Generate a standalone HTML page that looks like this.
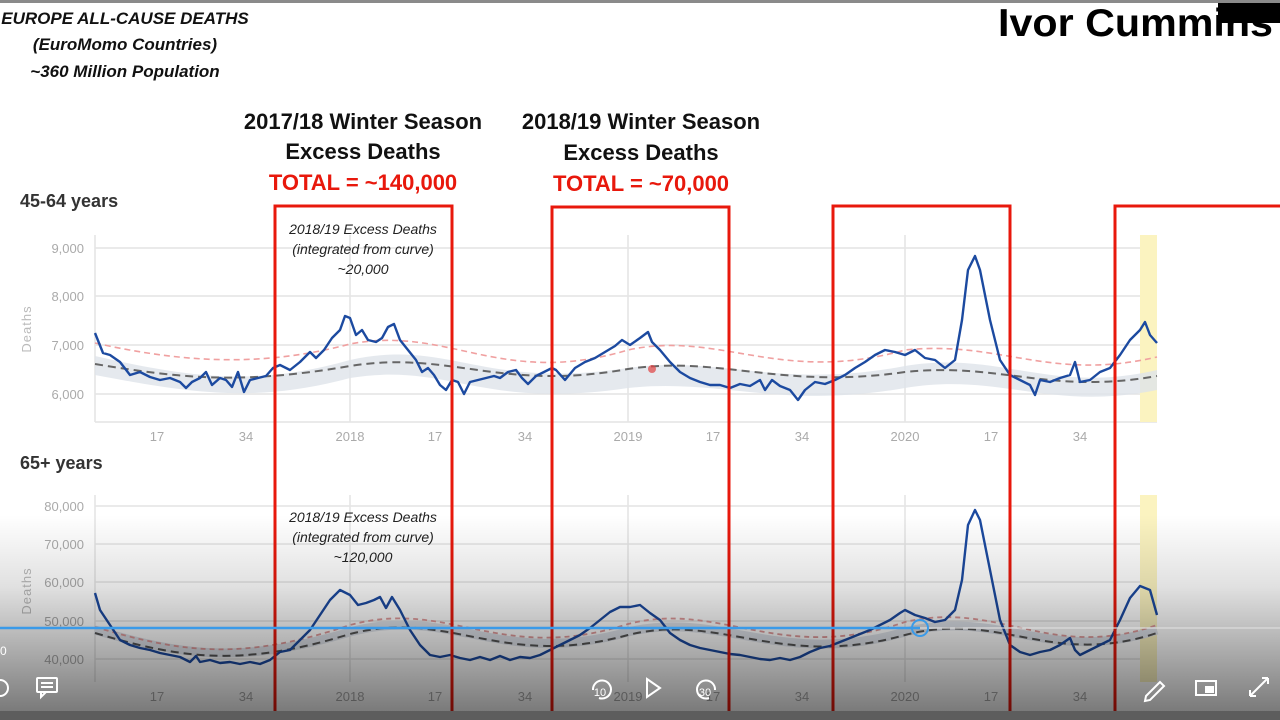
<!DOCTYPE html>
<html><head><style>
body{margin:0;width:1280px;height:720px;overflow:hidden;background:#fff;font-family:"Liberation Sans",sans-serif;}
</style></head><body>
<svg width="1280" height="720" xmlns="http://www.w3.org/2000/svg" style="position:absolute;left:0;top:0">
<defs>
<linearGradient id="ov" x1="0" y1="0" x2="0" y2="1">
<stop offset="0" stop-color="#000" stop-opacity="0"/>
<stop offset="0.35" stop-color="#000" stop-opacity="0.12"/>
<stop offset="1" stop-color="#000" stop-opacity="0.55"/>
</linearGradient>
</defs>
<rect x="0" y="0" width="1280" height="3" fill="#8a8a8a"/>
<text x="998" y="36" font-size="39" font-weight="bold" fill="#000" textLength="275" lengthAdjust="spacingAndGlyphs">Ivor Cummins</text>
<rect x="1218" y="3" width="62" height="20" fill="#000"/>
<g font-style="italic" font-weight="bold" font-size="17" fill="#111" text-anchor="middle">
<text x="125" y="24">EUROPE ALL-CAUSE DEATHS</text>
<text x="125" y="50">(EuroMomo Countries)</text>
<text x="125" y="77">~360 Million Population</text>
</g>
<g font-weight="bold" font-size="22" text-anchor="middle">
<text x="363" y="129" fill="#111">2017/18 Winter Season</text>
<text x="363" y="159" fill="#111">Excess Deaths</text>
<text x="363" y="190" fill="#e8180c">TOTAL = ~140,000</text>
<text x="641" y="129" fill="#111">2018/19 Winter Season</text>
<text x="641" y="160" fill="#111">Excess Deaths</text>
<text x="641" y="191" fill="#e8180c">TOTAL = ~70,000</text>
</g>
<text x="20" y="207" font-size="18" font-weight="bold" fill="#333">45-64 years</text>
<text x="20" y="469" font-size="18" font-weight="bold" fill="#333">65+ years</text>

<g stroke="#e4e4e4" stroke-width="1.5">
<line x1="95" y1="248" x2="1157" y2="248"/><line x1="95" y1="296" x2="1157" y2="296"/>
<line x1="95" y1="345" x2="1157" y2="345"/><line x1="95" y1="394" x2="1157" y2="394"/>
<line x1="95" y1="235" x2="95" y2="422"/><line x1="95" y1="422" x2="1157" y2="422"/>
<line x1="350" y1="235" x2="350" y2="422"/><line x1="628" y1="235" x2="628" y2="422"/><line x1="905" y1="235" x2="905" y2="422"/>
<line x1="95" y1="495" x2="95" y2="682"/>
<line x1="95" y1="506" x2="1157" y2="506"/><line x1="95" y1="544" x2="1157" y2="544"/><line x1="95" y1="582" x2="1157" y2="582"/><line x1="95" y1="621" x2="1157" y2="621"/><line x1="95" y1="659" x2="1157" y2="659"/>
<line x1="350" y1="495" x2="350" y2="682"/><line x1="628" y1="495" x2="628" y2="682"/><line x1="905" y1="495" x2="905" y2="682"/>
</g>
<g font-size="13" fill="#aaa" text-anchor="end">
<text x="84" y="253">9,000</text><text x="84" y="301">8,000</text><text x="84" y="350">7,000</text><text x="84" y="399">6,000</text>
<text x="84" y="511">80,000</text><text x="84" y="549">70,000</text><text x="84" y="587">60,000</text><text x="84" y="626">50,000</text><text x="84" y="664">40,000</text>
</g>
<text transform="translate(31,329) rotate(-90)" font-size="13" fill="#bbb" text-anchor="middle" letter-spacing="1">Deaths</text>
<text transform="translate(31,591) rotate(-90)" font-size="13" fill="#bbb" text-anchor="middle" letter-spacing="1">Deaths</text>
<g font-size="13" fill="#aaa" text-anchor="middle">
<text x="157" y="441">17</text><text x="246" y="441">34</text><text x="350" y="441">2018</text><text x="435" y="441">17</text><text x="525" y="441">34</text><text x="628" y="441">2019</text><text x="713" y="441">17</text><text x="802" y="441">34</text><text x="905" y="441">2020</text><text x="991" y="441">17</text><text x="1080" y="441">34</text>
<text x="157" y="701">17</text><text x="246" y="701">34</text><text x="350" y="701">2018</text><text x="435" y="701">17</text><text x="525" y="701">34</text><text x="628" y="701">2019</text><text x="713" y="701">17</text><text x="802" y="701">34</text><text x="905" y="701">2020</text><text x="991" y="701">17</text><text x="1080" y="701">34</text>
</g>
<rect x="1140" y="235" width="17" height="187" fill="#fbf3c0"/>
<rect x="1140" y="495" width="17" height="187" fill="#fbf3c0"/>

<path d="M95,356 C200,380 260,385 350,360 C450,338 480,390 628,368 C720,355 780,390 905,366 C1000,350 1050,395 1157,370 L1157,390 C1050,412 1000,372 905,388 C780,410 720,378 628,388 C480,410 450,362 350,378 C260,402 200,395 95,375 Z" fill="#dfe3ea" opacity="0.8"/>
<path d="M95,364 C180,378 240,385 350,366 C450,350 500,392 628,369 C720,355 780,390 905,372 C1000,362 1050,395 1157,376" fill="none" stroke="#666" stroke-width="2" stroke-dasharray="8,5"/>
<path d="M95,343 C180,362 260,368 350,344 C450,325 500,388 628,350 C720,330 780,385 905,350 C1000,340 1050,382 1157,357" fill="none" stroke="#f0a0a0" stroke-width="1.6" stroke-dasharray="6,4"/>
<polyline fill="none" stroke="#1c4aa0" stroke-width="2.4" stroke-linejoin="round" points="95,333 103,353 110,355 120,362 130,375 140,372 150,377 160,380 170,378 180,382 186,388 192,382 200,378 206,372 212,385 220,378 226,380 232,387 238,372 244,392 250,380 258,378 266,376 273,368 280,365 290,370 300,362 310,352 316,358 324,350 332,338 340,330 345,316 350,318 356,335 362,330 368,340 376,342 382,338 388,327 394,324 400,340 408,350 416,360 422,372 428,368 434,375 440,385 446,390 452,380 458,382 464,394 470,382 478,380 486,378 494,376 500,378 508,372 516,370 522,378 528,384 536,376 544,372 552,368 556,370 565,380 575,368 585,362 595,358 605,352 615,346 622,340 630,345 640,338 648,332 652,342 660,350 670,362 680,372 690,378 700,382 710,385 720,385 730,388 740,384 750,386 760,380 765,390 772,380 780,386 790,390 798,400 805,390 815,382 825,384 835,380 845,375 855,368 865,362 875,355 885,350 895,352 905,355 915,350 925,358 935,360 945,368 955,360 962,320 968,270 975,256 980,270 990,320 1000,360 1010,375 1020,380 1030,385 1035,395 1040,380 1050,382 1060,378 1070,375 1075,362 1080,382 1090,380 1100,372 1110,368 1120,355 1130,340 1140,330 1145,322 1150,335 1157,343"/>
<circle cx="652" cy="369" r="4" fill="#e04040" opacity="0.7"/>

<path d="M95,630 C180,655 240,665 350,632 C450,605 500,668 628,632 C720,610 780,668 905,632 C1000,608 1050,665 1157,630" fill="none" stroke="#dfe3ea" stroke-width="9"/>
<path d="M95,633 C180,658 240,668 350,634 C450,608 500,670 628,635 C720,612 780,670 905,635 C1000,610 1050,668 1157,633" fill="none" stroke="#555" stroke-width="2" stroke-dasharray="8,5"/>
<path d="M95,627 C180,652 240,662 350,625 C450,598 500,665 628,624 C720,600 780,665 905,622 C1000,600 1050,662 1157,625" fill="none" stroke="#e09a9a" stroke-width="1.8" stroke-dasharray="5,4"/>
<polyline fill="none" stroke="#1c4aa0" stroke-width="2.4" stroke-linejoin="round" points="95,593 100,610 110,625 120,640 130,645 140,648 150,650 160,653 170,655 180,657 190,662 196,656 200,662 210,660 220,663 230,662 240,664 250,662 260,664 270,660 280,652 290,650 300,640 310,630 320,615 330,600 340,590 350,595 358,605 366,603 374,600 380,597 386,608 392,597 400,610 410,630 420,645 430,655 440,657 450,655 460,658 470,660 480,657 490,660 500,656 510,660 520,657 530,658 540,655 550,650 560,645 570,640 580,635 590,628 600,620 610,612 620,607 630,607 640,605 650,613 660,620 670,633 680,640 690,645 700,648 710,650 720,652 730,654 740,655 750,657 760,659 770,660 780,658 790,660 800,657 810,652 820,648 830,646 840,642 850,638 860,634 870,630 880,625 890,620 900,613 905,610 915,615 925,618 935,622 945,620 955,610 962,580 968,525 975,510 980,520 990,570 1000,620 1010,645 1020,652 1030,655 1040,652 1050,650 1060,645 1070,638 1075,650 1080,655 1090,650 1100,645 1110,640 1120,620 1130,598 1140,586 1150,590 1157,615"/>

<g font-style="italic" font-size="14" fill="#222" text-anchor="middle">
<text x="363" y="234">2018/19 Excess Deaths</text><text x="363" y="254">(integrated from curve)</text><text x="363" y="274">~20,000</text>
<text x="363" y="522">2018/19 Excess Deaths</text><text x="363" y="542">(integrated from curve)</text><text x="363" y="562">~120,000</text>
</g>

<g fill="none" stroke="#e8180c" stroke-width="3">
<path d="M275,720 V206 H452 V720"/>
<path d="M552,720 V207 H729 V720"/>
<path d="M833,720 V206 H1010 V720"/>
<path d="M1115,720 V206 H1282"/>
</g>

<rect x="0" y="515" width="1280" height="205" fill="url(#ov)"/>
<rect x="0" y="711" width="1280" height="9" fill="#5d5d5d"/>
<line x1="920" y1="628" x2="1280" y2="628" stroke="#ddd" stroke-width="2" opacity="0.6"/>
<line x1="0" y1="628" x2="920" y2="628" stroke="#3a9ae8" stroke-width="2.5"/>
<circle cx="920" cy="628" r="8" fill="none" stroke="#3a9ae8" stroke-width="2"/>
<g stroke="#fff" stroke-width="2" fill="none">
<rect x="37" y="678" width="20" height="14" rx="1"/><path d="M41,692 v5 l5,-5"/><line x1="41" y1="683" x2="53" y2="683"/><line x1="41" y1="687" x2="53" y2="687"/>
<path d="M593,690 a9,9 0 1,1 6,8"/><path d="M647,679 l13,9 -13,9 z"/>
<path d="M715,690 a9,9 0 1,0 -6,8"/>
<path d="M1146,696 l14,-14 4,4 -14,14 -5,1 z"/>
<rect x="1196" y="681" width="20" height="14"/><rect x="1206" y="687" width="7" height="5" fill="#fff"/>
<path d="M1250,696 l18,-18 M1250,696 v-6 M1250,696 h6 M1268,678 h-6 M1268,678 v6"/>
<path d="M0,680 a8,8 0 0,1 0,16"/>
</g>
<g font-size="11" fill="#fff" text-anchor="middle"><text x="600" y="696">10</text><text x="705" y="696">30</text></g>
<text x="0" y="655" font-size="12" fill="#fff">0</text>
</svg>
</body></html>
